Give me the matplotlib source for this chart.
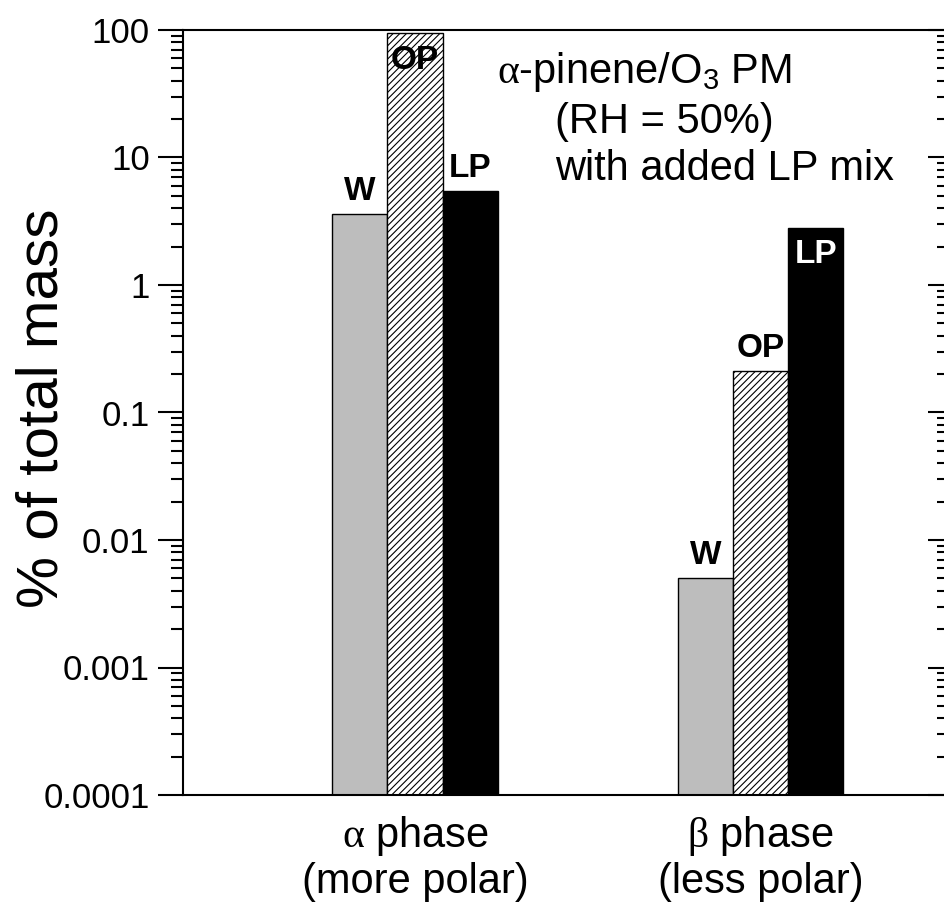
import matplotlib
matplotlib.use("Agg")
import matplotlib.pyplot as plt
import numpy as np

plt.rcParams['font.family'] = ['Liberation Sans', 'DejaVu Sans']
plt.rcParams['mathtext.fontset'] = 'custom'
plt.rcParams['mathtext.rm'] = 'Liberation Serif'
plt.rcParams['mathtext.sf'] = 'Liberation Sans'
plt.rcParams['hatch.linewidth'] = 0.8

groups = [r"$\mathrm{\alpha}$ phase" + "\n(more polar)", r"$\mathrm{\beta}$ phase" + "\n(less polar)"]
series = ["W", "OP", "LP"]
w_vals = [3.6, 0.005]
op_vals = [94.0, 0.21]
lp_vals = [5.5, 2.8]
yticks = [1e-4, 1e-3, 1e-2, 1e-1, 1, 10, 100]
yticklabels = ["0.0001", "0.001", "0.01", "0.1", "1", "10", "100"]

W, H = 945, 913
fig = plt.figure(figsize=(W / 100, H / 100), dpi=100)
ax = fig.add_axes([183 / W, 1 - 795 / H, (947 - 183) / W, (795 - 30) / H])

x = np.arange(len(groups))
bw = 0.16
ax.bar(x - bw, w_vals, bw, bottom=1e-6, color='#bdbdbd', edgecolor='black', linewidth=1.0)
ax.bar(x, op_vals, bw, bottom=1e-6, color='white', edgecolor='black', hatch='/////', linewidth=1.0)
ax.bar(x + bw, lp_vals, bw, bottom=1e-6, color='black', edgecolor='black', linewidth=1.0)

ax.set_yscale('log')
ax.set_ylim(1e-4, 100)
ax.set_xlim(-0.672, 1.54)
ax.set_yticks(yticks)
ax.set_yticklabels(yticklabels, fontsize=25)
ax.yaxis.set_minor_locator(matplotlib.ticker.LogLocator(base=10, subs=np.arange(2, 10)))
ax.yaxis.set_minor_formatter(matplotlib.ticker.NullFormatter())
ax.tick_params(axis='y', which='major', direction='out', length=18, width=1.5, pad=6)
ax.tick_params(axis='y', which='minor', direction='out', length=9, width=1.5)
ax.set_xticks(x)
ax.set_xticklabels(groups, fontsize=30, linespacing=1.1)
ax.tick_params(axis='x', length=0, pad=14)
for s in ax.spines.values():
    s.set_linewidth(1.5)
ax.spines['right'].set_visible(False)

ax2 = ax.twinx()
ax2.set_yscale('log')
ax2.set_ylim(1e-4, 100)
ax2.set_yticks(yticks)
ax2.yaxis.set_minor_locator(matplotlib.ticker.LogLocator(base=10, subs=np.arange(2, 10)))
ax2.yaxis.set_minor_formatter(matplotlib.ticker.NullFormatter())
ax2.set_yticklabels([])
ax2.tick_params(axis='y', which='major', direction='in', length=14, width=1.5)
ax2.tick_params(axis='y', which='minor', direction='in', length=7, width=1.5)
for s in ax2.spines.values():
    s.set_visible(False)

ax.set_ylabel("% of total mass", fontsize=42)
ax.yaxis.set_label_coords(-0.148, 0.505)

def lab(xv, yv, s, above=True, color='black'):
    ax.annotate(s, (xv, yv), xytext=(0, 5 if above else -8), textcoords='offset points',
                ha='center', va='bottom' if above else 'top', fontsize=24,
                fontweight='bold', color=color)

lab(x[0] - bw, w_vals[0], "W")
lab(x[0], op_vals[0], "OP", above=False)
lab(x[0] + bw, lp_vals[0], "LP")
lab(x[1] - bw, w_vals[1], "W")
lab(x[1], op_vals[1], "OP")
lab(x[1] + bw, lp_vals[1], "LP", above=False, color='white')

fig.text(497 / W, 1 - 83 / H, r"$\mathrm{\alpha}$-pinene/O$_{\mathsf{3}}$ PM", fontsize=30, ha='left', va='baseline')
fig.text(555 / W, 1 - 133 / H, "(RH = 50%)", fontsize=30, ha='left', va='baseline')
fig.text(555 / W, 1 - 180 / H, "with added LP mix", fontsize=30, ha='left', va='baseline')

fig.savefig("out.png", dpi=100)
